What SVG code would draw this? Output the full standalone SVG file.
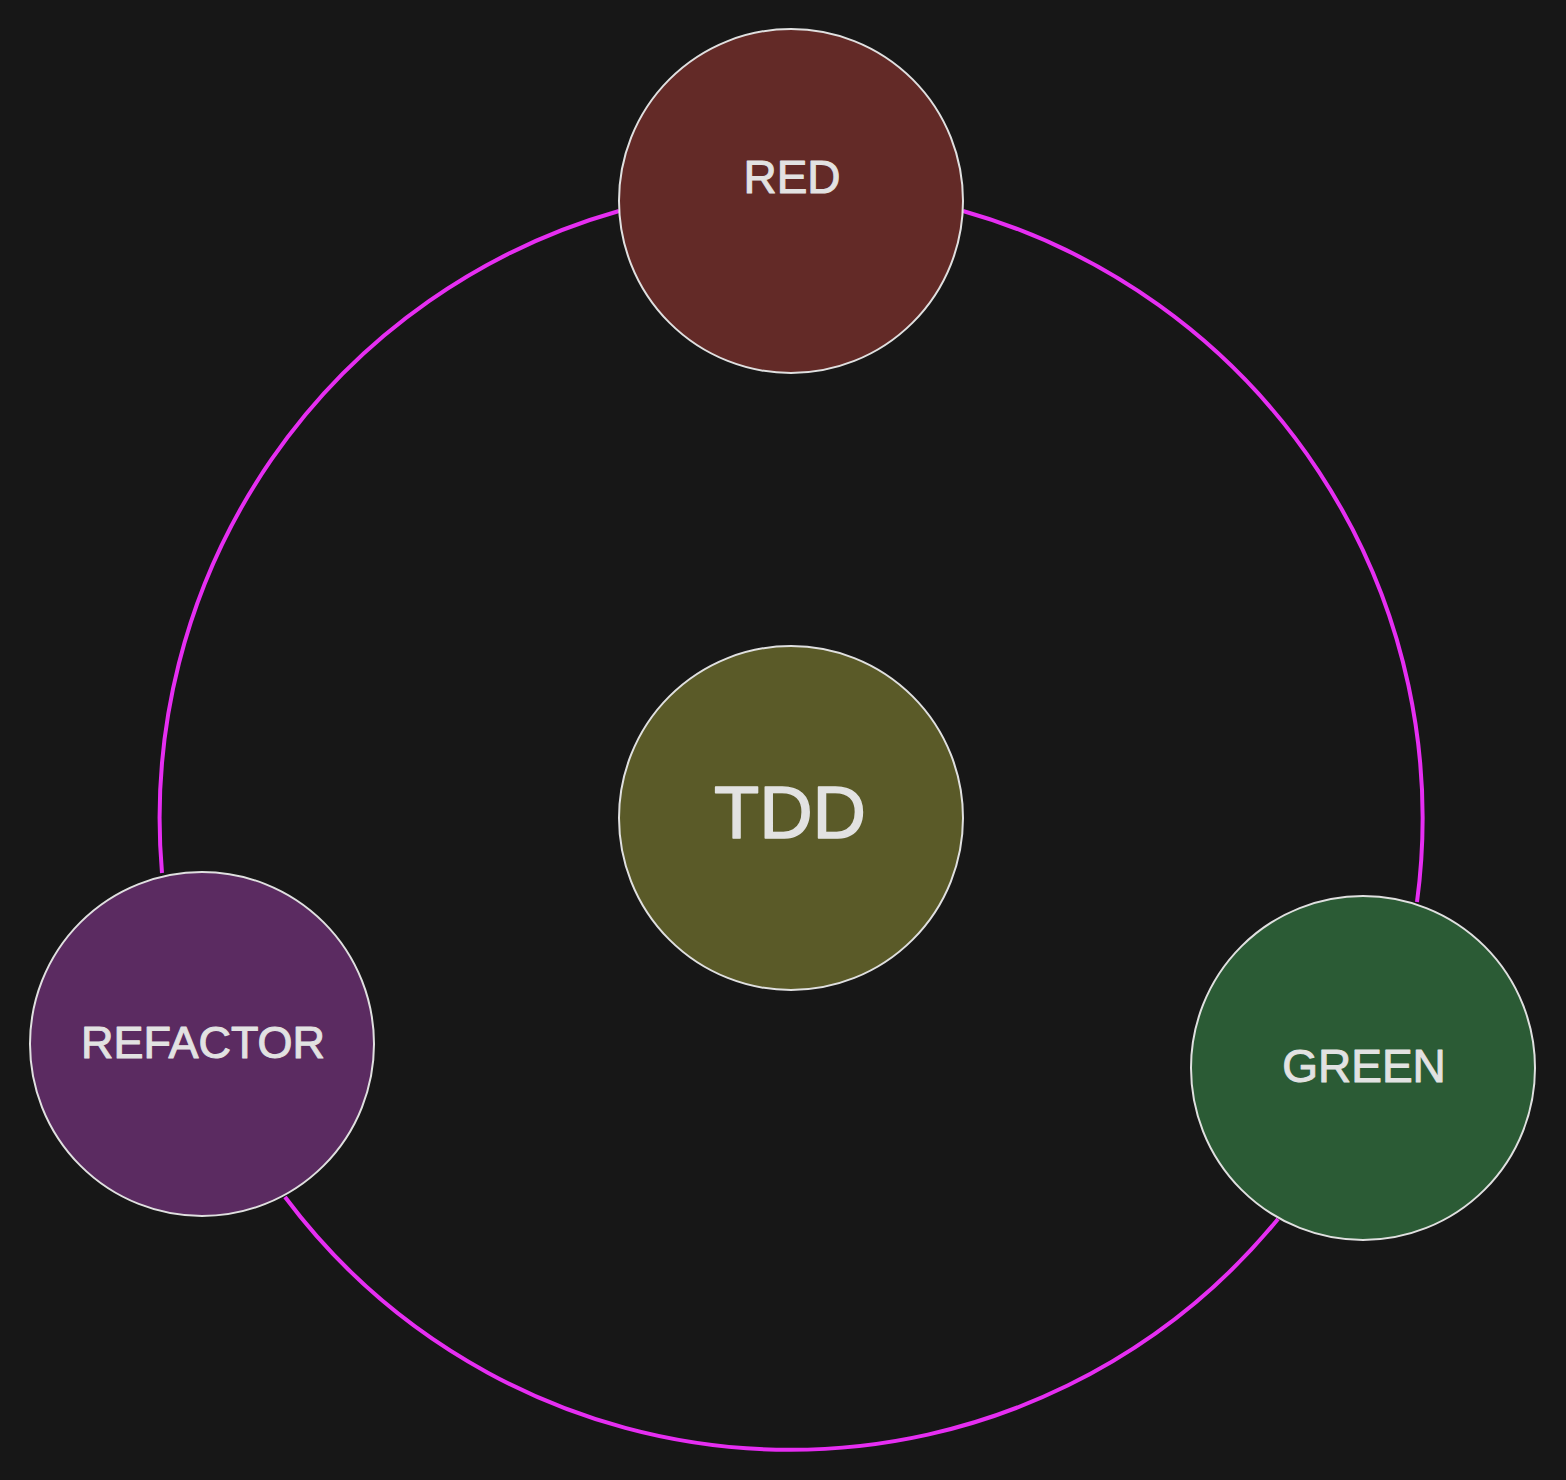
<svg xmlns="http://www.w3.org/2000/svg" width="1566" height="1480" viewBox="0 0 1566 1480">
<style>
.edge{fill:none;stroke:#e62ef2;stroke-width:4}
.node{stroke:#e0e0e0;stroke-width:2}
.lbl{font-family:"Liberation Sans",Arial,sans-serif;fill:#e2e2e2;stroke:#e2e2e2;stroke-width:1;stroke-linejoin:round;text-anchor:middle;font-size:46px}
</style>
<rect width="1566" height="1480" fill="#171717"/>
<g id="connectors">
<path class="edge" d="M 963 211 A 631 631 0 0 1 1417 902"/>
<path class="edge" d="M 1278 1219 A 631 631 0 0 1 285 1197"/>
<path class="edge" d="M 162 873 A 631 631 0 0 1 619 211"/>
</g>
<g id="red">
<circle class="node" cx="791" cy="201" r="172" fill="#632a27"/>
<text class="lbl" x="792" y="193">RED</text>
</g>
<g id="tdd">
<circle class="node" cx="791" cy="818" r="172" fill="#5a5a28"/>
<text class="lbl" x="790" y="838" style="font-size:74px;stroke-width:1.5">TDD</text>
</g>
<g id="refactor">
<circle class="node" cx="202" cy="1044" r="172" fill="#5b2b61"/>
<text class="lbl" x="203" y="1058" style="font-size:45px">REFACTOR</text>
</g>
<g id="green">
<circle class="node" cx="1363" cy="1068" r="172" fill="#2b5b35"/>
<text class="lbl" x="1364" y="1082">GREEN</text>
</g>
</svg>
